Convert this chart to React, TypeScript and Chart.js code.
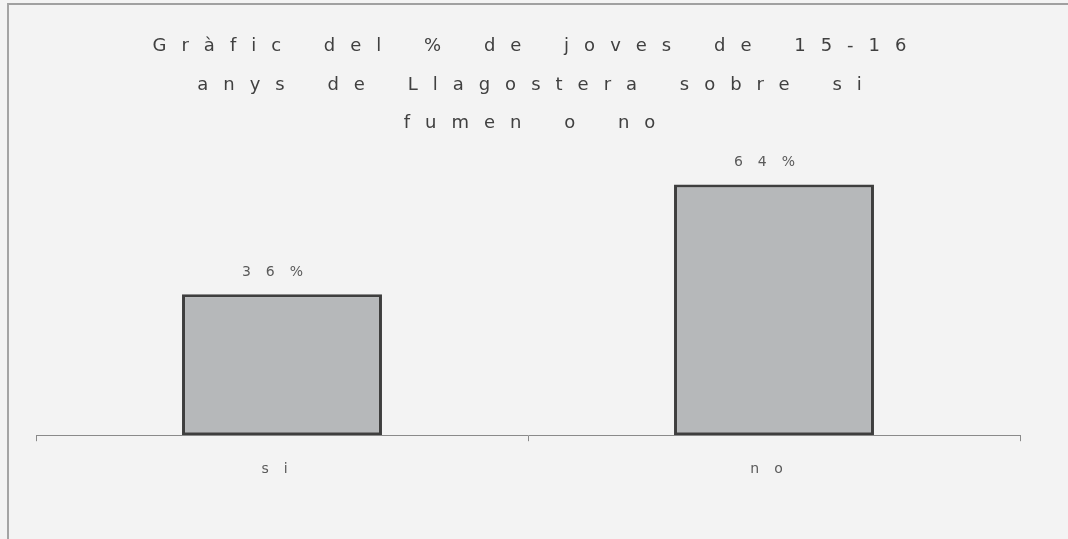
import React, { useEffect, useRef } from "react";
import { Chart, registerables } from "chart.js";

Chart.register(...registerables);

const titleLines = [
  "Gràfic del % de joves de 15-16",
  "anys de Llagostera sobre si",
  "fumen o no",
];
const categories = ["si", "no"];
const percentValues = [36, 64];
const yMin = 0;
const yMax = 70;

const FONT = "'DejaVu Sans', 'Open Sans', sans-serif";

const spacingPlugin = {
  id: "spacing",
  beforeDraw(chart: any) {
    const ctx = chart.ctx as any;
    ctx.save();
    ctx.translate(9, 0);
    ctx.letterSpacing = "15px";
    ctx.wordSpacing = "7px";
  },
  beforeDatasetsDraw(chart: any) {
    const ctx = chart.ctx as any;
    ctx.restore();
    ctx.letterSpacing = "0px";
    ctx.wordSpacing = "0px";
  },
  afterDatasetsDraw(chart: any) {
    const ctx = chart.ctx;
    ctx.save();
    (ctx as any).letterSpacing = "15px";
    ctx.font = `14px ${FONT}`;
    ctx.fillStyle = "#5a5a5a";
    ctx.textAlign = "center";
    ctx.textBaseline = "middle";
    const meta = chart.getDatasetMeta(0);
    meta.data.forEach((bar: any, i: number) => {
      ctx.fillText(`${percentValues[i]}%`, bar.x - 2, bar.y - 22);
    });
    ctx.restore();
    (ctx as any).letterSpacing = "15px";
  },
  afterDraw(chart: any) {
    const ctx = chart.ctx as any;
    ctx.letterSpacing = "0px";
    ctx.wordSpacing = "0px";
  },
};

export default function App() {
  const canvasRef = useRef<HTMLCanvasElement | null>(null);

  useEffect(() => {
    if (!canvasRef.current) return;
    const chart = new Chart(canvasRef.current, {
      type: "bar",
      data: {
        labels: categories,
        datasets: [
          {
            data: percentValues,
            backgroundColor: "#b6b8ba",
            borderColor: "#3e3e3e",
            borderWidth: 3,
            borderSkipped: false,
            categoryPercentage: 0.8,
            barPercentage: 0.508,
          },
        ],
      },
      options: {
        animation: false,
        responsive: false,
        maintainAspectRatio: false,
        layout: { padding: { left: 36, right: 48, top: 0, bottom: 41 } },
        plugins: {
          legend: { display: false },
          tooltip: { enabled: false },
          title: {
            display: true,
            text: titleLines,
            color: "#404040",
            font: { family: FONT, size: 18, weight: "normal", lineHeight: 2.15 },
            padding: { top: 27, bottom: 18 },
          },
        },
        scales: {
          x: {
            grid: {
              display: true,
              drawOnChartArea: false,
              drawTicks: true,
              tickLength: 6,
              color: "#8a8a8a",
              offset: true,
              z: 1,
            },
            border: { display: true, color: "#8a8a8a", width: 1, z: 1 },
            ticks: {
              color: "#5a5a5a",
              font: { family: FONT, size: 14 },
              padding: 20,
              z: 1,
            },
          },
          y: {
            display: false,
            min: yMin,
            max: yMax,
          },
        },
      },
      plugins: [spacingPlugin],
    });
    return () => chart.destroy();
  }, []);

  return (
    <div
      style={{
        position: "fixed",
        left: 0,
        top: 0,
        width: 1068,
        height: 539,
        background: "#f3f3f3",
        overflow: "hidden",
      }}
    >
      <div
        style={{
          position: "absolute",
          left: 7,
          top: 3,
          right: 0,
          bottom: 0,
          borderLeft: "2px solid #a4a4a4",
          borderTop: "2px solid #a0a0a0",
        }}
      />
      <canvas
        ref={canvasRef}
        width={1068}
        height={539}
        style={{ position: "absolute", left: 0, top: 0, width: 1068, height: 539 }}
      />
    </div>
  );
}
